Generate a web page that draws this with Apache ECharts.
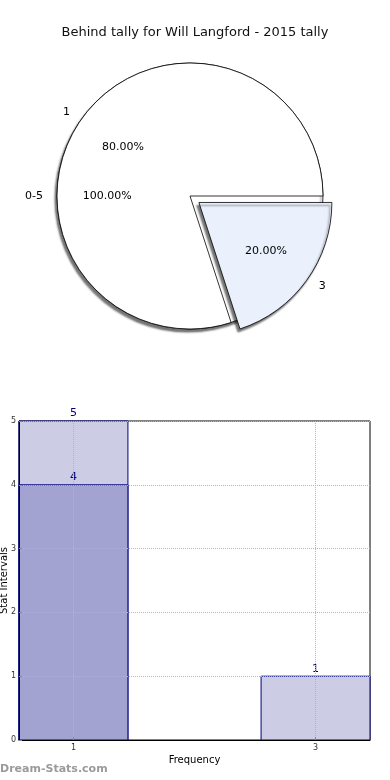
<!DOCTYPE html>
<html><head><meta charset="utf-8">
<script src="https://cdn.jsdelivr.net/npm/echarts@6/dist/echarts.min.js"></script>
<style>html,body{margin:0;padding:0;background:#fff}#c{width:390px;height:780px}</style>
</head><body><div id="c"></div>
<script>
// ---- data ----
const titleText = 'Behind tally for Will Langford - 2015 tally';
const outerNames = ['0-5'];
const outerValues = [5];
const innerNames = ['1', '3'];
const innerValues = [4, 1];
const innerExploded = [false, true];
const barX = [1, 3];
const totalValues = [5, 1];
const overlayX = [1];
const overlayValues = [4];
const xTickValues = [1, 3];
const yTickValues = [0, 1, 2, 3, 4, 5];
const xAxisTitle = 'Frequency';
const yAxisTitle = 'Stat Intervals';
const watermark = 'Dream-Stats.com';

// ---- styles ----
const FONT = '"DejaVu Sans", Verdana, sans-serif';
const R = 133;
const CENTER = [190, 196];
const BAR_W = 0.9;
const innerColors = ['#ffffff', '#eaf0fc'];
const shadow = {shadowColor: 'rgba(0,0,0,0.55)', shadowBlur: 2, shadowOffsetX: -2, shadowOffsetY: 3};

const chart = echarts.init(document.getElementById('c'), null, {renderer: 'canvas'});

function pieBase(extra) {
  return Object.assign({
    type: 'pie', center: CENTER, startAngle: 0, clockwise: false,
    avoidLabelOverlap: false, silent: true, animation: false,
    emphasis: {disabled: true}, selectedMode: 'single', selectedOffset: 11
  }, extra);
}

const outerData = outerNames.map((n, i) => ({name: n, value: outerValues[i]}));
const innerData = innerNames.map((n, i) => ({
  name: n, value: innerValues[i], selected: innerExploded[i],
  itemStyle: Object.assign({color: innerColors[i]}, innerExploded[i] ? shadow : {})
}));
const pctFmt = p => p.percent.toFixed(2) + '%';
const nameLabel = {show: true, position: 'outside', formatter: '{b}', fontSize: 11, color: '#000', fontFamily: FONT};
const pctLabel = {show: true, position: 'inside', formatter: pctFmt, fontSize: 11, color: '#000', fontFamily: FONT};
const edge = {borderColor: '#000', borderWidth: 0.8};

function barRender(fill) {
  return function (params, api) {
    const x = api.value(0), v = api.value(1);
    const p0 = api.coord([x - BAR_W / 2, v]);
    const p1 = api.coord([x + BAR_W / 2, 0]);
    return {type: 'group', children: [
      {type: 'rect', shape: {x: p0[0], y: p0[1], width: p1[0] - p0[0], height: p1[1] - p0[1]},
       style: {fill: fill, stroke: '#000080', lineWidth: 1}},
      {type: 'text', style: {text: String(v), x: (p0[0] + p1[0]) / 2, y: p0[1] - 2,
       align: 'center', verticalAlign: 'bottom', fill: '#000080', font: '11px ' + FONT}}
    ]};
  };
}

chart.setOption({
  animation: false,
  title: {text: titleText, left: 'center', top: 21,
    textStyle: {fontSize: 13, fontWeight: 'normal', color: '#111', fontFamily: FONT}},
  grid: {left: 19, right: 20, top: 421, bottom: 40, show: true, borderColor: '#000', borderWidth: 1,
    containLabel: false, outerBoundsMode: 'none'},
  xAxis: {
    type: 'value', min: 1 - BAR_W / 2, max: 3 + BAR_W / 2, z: 3,
    name: xAxisTitle, nameLocation: 'middle', nameGap: 15, nameMoveOverlap: false,
    nameTextStyle: {fontSize: 10, color: '#000', fontFamily: FONT},
    axisLine: {lineStyle: {color: '#000'}},
    axisTick: {inside: true, length: 3, customValues: xTickValues, lineStyle: {color: '#888'}},
    axisLabel: {customValues: xTickValues, fontSize: 8, color: '#333', margin: 4, fontFamily: FONT},
    splitLine: {show: true, lineStyle: {type: 'dotted', color: '#b5b5b5'}}
  },
  yAxis: {
    type: 'value', min: 0, max: 5, interval: 1, z: 3,
    name: yAxisTitle, nameLocation: 'middle', nameGap: 10, nameMoveOverlap: false,
    nameTextStyle: {fontSize: 10, color: '#000', fontFamily: FONT},
    axisLine: {show: true, lineStyle: {color: '#000'}},
    axisTick: {show: true, inside: true, length: 3, lineStyle: {color: '#888'}},
    axisLabel: {fontSize: 8, color: '#333', margin: 3, fontFamily: FONT},
    splitLine: {show: true, lineStyle: {type: 'dotted', color: '#b5b5b5'}}
  },
  graphic: [{type: 'text', left: 0, top: 764, style: {text: watermark, font: 'bold 11px ' + FONT, fill: '#9a9a9a'}}],
  series: [
    pieBase({radius: [0, R], data: outerData,
      itemStyle: Object.assign({color: '#fff'}, edge, shadow),
      label: nameLabel, labelLine: {show: false, length: 9, length2: 0}}),
    pieBase({radius: [0, R], data: innerData,
      itemStyle: edge, select: {itemStyle: edge},
      label: nameLabel, labelLine: {show: false, length: 9, length2: 0}}),
    pieBase({radius: [R * 0.2, R], data: outerData.map(d => ({name: d.name, value: d.value})),
      itemStyle: {color: 'rgba(0,0,0,0)', borderWidth: 0}, label: pctLabel, labelLine: {show: false}}),
    pieBase({radius: [R * 0.2, R], data: innerNames.map((n, i) => ({name: n, value: innerValues[i], selected: innerExploded[i]})),
      itemStyle: {color: 'rgba(0,0,0,0)', borderWidth: 0}, select: {itemStyle: {color: 'rgba(0,0,0,0)', borderWidth: 0}},
      label: pctLabel, labelLine: {show: false}}),
    {type: 'custom', name: 'total', data: barX.map((x, i) => [x, totalValues[i]]),
      renderItem: barRender('#cccce5'), encode: {x: 0, y: 1}, silent: true},
    {type: 'custom', name: 'overlay', data: overlayX.map((x, i) => [x, overlayValues[i]]),
      renderItem: barRender('#a3a3d1'), encode: {x: 0, y: 1}, silent: true}
  ]
});
</script></body></html>
